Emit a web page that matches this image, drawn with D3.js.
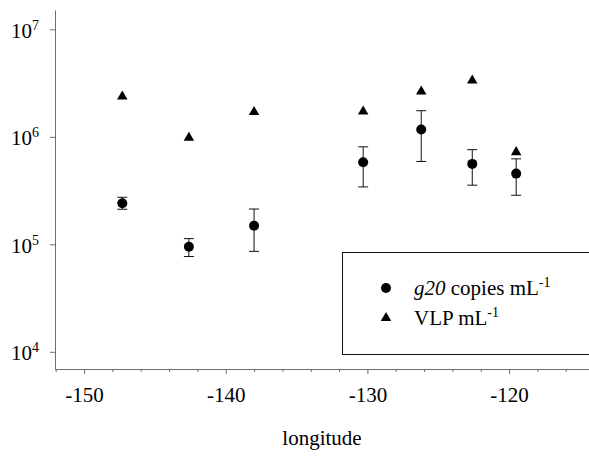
<!DOCTYPE html>
<html>
<head>
<meta charset="utf-8">
<script src="https://cdn.jsdelivr.net/npm/d3@7"></script>
<style>
  body { margin: 0; background: #fff; }
  svg { display: block; font-family: "Liberation Serif", "Times New Roman", serif; }
</style>
</head>
<body>
<div id="chart"></div>
<script>
// station longitudes and measured abundances
const longitude = [-147.3, -142.6, -138.0, -130.3, -126.2, -122.6, -119.5];
const g20 = [2.41e5, 9.5e4, 1.49e5, 5.8e5, 1.17e6, 5.6e5, 4.55e5];
const g20Low = [2.12e5, 7.7e4, 8.6e4, 3.42e5, 5.9e5, 3.55e5, 2.86e5];
const g20High = [2.74e5, 1.13e5, 2.13e5, 8.07e5, 1.75e6, 7.6e5, 6.24e5];
const vlp = [2.37e6, 9.8e5, 1.7e6, 1.72e6, 2.64e6, 3.34e6, 7.2e5];

const xTicks = [-150, -140, -130, -120];
const xMinorTicks = [-152, -148, -146, -144, -142, -138, -136, -134, -132, -128, -126, -124, -122, -118, -116];
const yTicks = [1e4, 1e5, 1e6, 1e7];
const yTickExponents = ["4", "5", "6", "7"];

const width = 589;
const height = 460;
const axisColor = "#6e6e6e";

const x = d3.scaleLinear().domain([-152.05, -114.36]).range([55, 589]);
const y = d3.scaleLog().domain([Math.pow(10, 3.84), Math.pow(10, 7.18)]).range([369, 10]);

const svg = d3.select("#chart")
  .append("svg")
  .attr("width", width)
  .attr("height", height);

// x axis, major and minor ticks
const xAxisG = svg.append("g")
  .attr("transform", `translate(0,${y.range()[0]})`)
  .call(d3.axisBottom(x).tickValues(xTicks).tickSize(5).tickSizeOuter(0).tickFormat((d) => String(d)));
xAxisG.selectAll("text")
  .attr("y", 33)
  .attr("dy", 0)
  .attr("fill", "#000")
  .attr("font-size", 21)
  .attr("font-family", "Liberation Serif");

svg.append("g")
  .attr("transform", `translate(0,${y.range()[0]})`)
  .call(d3.axisBottom(x).tickValues(xMinorTicks).tickSize(3).tickSizeOuter(0).tickFormat(""))
  .select(".domain").remove();

// y axis with power-of-ten labels
const yAxisG = svg.append("g")
  .attr("transform", `translate(${x.range()[0]},0)`)
  .call(d3.axisLeft(y).tickValues(yTicks).tickSize(5).tickSizeOuter(0).tickFormat(""));

yAxisG.selectAll(".tick")
  .append("text")
  .attr("x", -44)
  .attr("y", 8)
  .attr("text-anchor", "start")
  .attr("fill", "#000")
  .attr("font-size", 21)
  .attr("font-family", "Liberation Serif")
  .each(function (d, i) {
    const t = d3.select(this);
    t.append("tspan").text("10");
    t.append("tspan").attr("dy", -8).attr("font-size", 14).text(yTickExponents[i]);
  });

svg.selectAll(".domain, .tick line").attr("stroke", axisColor);

// error bars
const capHalf = 5;
const errG = svg.append("g")
  .attr("stroke", "#111")
  .attr("stroke-width", 1)
  .selectAll("g")
  .data(longitude)
  .join("g");

errG.append("line")
  .attr("x1", (d) => x(d))
  .attr("x2", (d) => x(d))
  .attr("y1", (d, i) => y(g20Low[i]))
  .attr("y2", (d, i) => y(g20High[i]));
errG.append("line")
  .attr("x1", (d) => x(d) - capHalf)
  .attr("x2", (d) => x(d) + capHalf)
  .attr("y1", (d, i) => y(g20Low[i]))
  .attr("y2", (d, i) => y(g20Low[i]));
errG.append("line")
  .attr("x1", (d) => x(d) - capHalf)
  .attr("x2", (d) => x(d) + capHalf)
  .attr("y1", (d, i) => y(g20High[i]))
  .attr("y2", (d, i) => y(g20High[i]));

// g20 points
svg.append("g")
  .selectAll("circle")
  .data(longitude)
  .join("circle")
  .attr("cx", (d) => x(d))
  .attr("cy", (d, i) => y(g20[i]))
  .attr("r", 5)
  .attr("fill", "#000");

// VLP points
const triangle = d3.symbol(d3.symbolTriangle, 48);
svg.append("g")
  .selectAll("path")
  .data(longitude)
  .join("path")
  .attr("transform", (d, i) => `translate(${x(d)},${y(vlp[i])})`)
  .attr("d", triangle)
  .attr("fill", "#000");

// legend
const legend = svg.append("g");
legend.append("rect")
  .attr("x", 342.5)
  .attr("y", 252.5)
  .attr("width", 260)
  .attr("height", 102)
  .attr("fill", "none")
  .attr("stroke", "#111");

legend.append("circle").attr("cx", 386).attr("cy", 288).attr("r", 5).attr("fill", "#000");
legend.append("path").attr("transform", "translate(386,318)").attr("d", triangle).attr("fill", "#000");

const l1 = legend.append("text").attr("x", 414).attr("y", 295).attr("font-size", 21);
l1.append("tspan").attr("font-style", "italic").text("g20");
l1.append("tspan").text(" copies mL");
l1.append("tspan").attr("dy", -8).attr("font-size", 14).text("-1");

const l2 = legend.append("text").attr("x", 414).attr("y", 325).attr("font-size", 21);
l2.append("tspan").text("VLP mL");
l2.append("tspan").attr("dy", -8).attr("font-size", 14).text("-1");

// axis title
svg.append("text")
  .attr("x", 322)
  .attr("y", 445)
  .attr("text-anchor", "middle")
  .attr("font-size", 21)
  .text("longitude");
</script>
</body>
</html>
